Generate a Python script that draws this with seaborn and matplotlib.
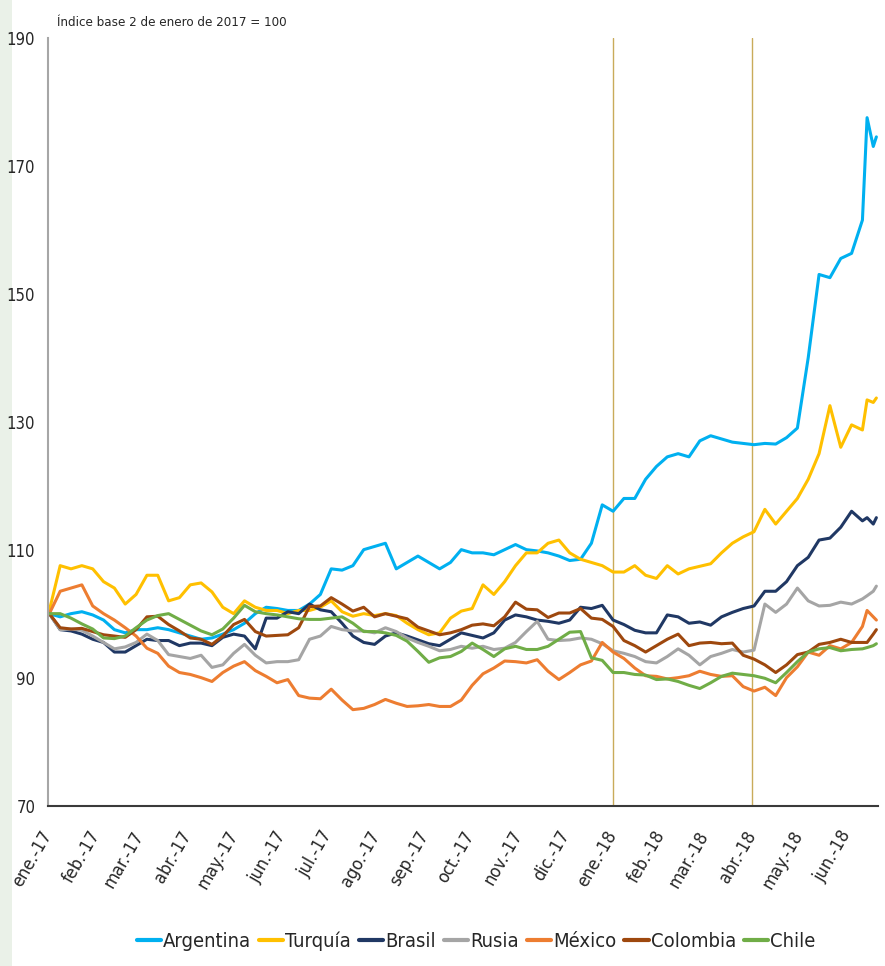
# Tipo de cambio de emergentes, índice base 2 de enero de 2017 = 100
# datos leídos a ojo del gráfico original (semanales, + 3 puntos finales de junio)

import pandas as pd
import matplotlib.pyplot as plt
import seaborn as sns
from matplotlib.patches import Rectangle

# ------------------ datos ------------------
fechas = list(pd.date_range("2017-01-02", "2018-06-11", freq="7D")) + \
    list(pd.to_datetime(["2018-06-14", "2018-06-18", "2018-06-20"]))

argentina = [100, 99.5, 100, 100.3, 99.8, 99, 97.5, 97, 97.5, 97.5,
             97.8, 97.5, 97, 96.5, 96, 96.2, 96.8, 97.5, 98.5, 100,
             101, 100.8, 100.5, 100.5, 101.5, 103, 107, 106.8, 107.5, 110,
             110.5, 111, 107, 108, 109, 108, 107, 108, 110, 109.5,
             109.5, 109.2, 110, 110.8, 110, 109.8, 109.5, 109, 108.3, 108.5,
             111, 117, 116, 118, 118, 121, 123, 124.5, 125, 124.5,
             127, 127.8, 127.3, 126.8, 126.6, 126.4, 126.6, 126.5, 127.5, 129,
             140, 153, 152.5, 155.5, 156.3, 161.5,
             177.5, 173, 174.5]

turquia = [100.5, 107.5, 107, 107.5, 107, 105, 104, 101.5, 103, 106,
           106, 102, 102.5, 104.5, 104.8, 103.4, 101, 100, 102, 101,
           100.5, 100.5, 100, 100.5, 100.5, 101, 102, 100.3, 99.6, 100,
           99.7, 100, 99.7, 98.5, 97.5, 96.7, 97, 99.3, 100.4, 100.8,
           104.5, 103, 105, 107.5, 109.5, 109.5, 111, 111.5, 109.5, 108.5,
           108, 107.5, 106.5, 106.5, 107.5, 106, 105.5, 107.5, 106.2, 107,
           107.4, 107.8, 109.5, 111, 112, 112.8, 116.3, 114, 116, 118,
           121, 125, 132.5, 126, 129.5, 128.7,
           133.4, 133, 133.7]

brasil = [100, 97.5, 97.3, 96.8, 96, 95.5, 94, 94, 95, 96,
          95.8, 95.8, 95, 95.4, 95.4, 95, 96.3, 96.8, 96.5, 94.5,
          99.3, 99.3, 100.3, 100, 101.5, 100.6, 100.3, 98.5, 96.5, 95.5,
          95.2, 96.5, 97, 96.5, 95.9, 95.3, 95, 96, 97, 96.6,
          96.2, 97, 99, 99.8, 99.5, 99, 98.8, 98.5, 99, 101,
          100.8, 101.3, 99, 98.3, 97.4, 97, 97, 99.8, 99.5, 98.5,
          98.7, 98.2, 99.5, 100.2, 100.8, 101.2, 103.5, 103.5, 105, 107.5,
          108.8, 111.5, 111.8, 113.5, 116, 114.5,
          115, 114, 115]

rusia = [100, 97.5, 97.6, 97.4, 96.5, 95.5, 94.5, 94.8, 95.5, 96.8,
         95.8, 93.6, 93.3, 93, 93.5, 91.6, 92, 93.8, 95.2, 93.5,
         92.3, 92.5, 92.5, 92.8, 96, 96.5, 98, 97.5, 97.3, 97.3,
         97, 97.8, 97.2, 96.2, 95.5, 94.9, 94.2, 94.4, 94.9, 94.6,
         94.9, 94.4, 94.6, 95.5, 97.2, 98.8, 96, 95.8, 95.9, 96.2,
         96, 95.3, 94.2, 93.8, 93.3, 92.5, 92.3, 93.3, 94.5, 93.5,
         92, 93.3, 93.8, 94.4, 94, 94.3, 101.5, 100.2, 101.5, 104,
         102, 101.2, 101.3, 101.8, 101.5, 102.3,
         102.8, 103.5, 104.3]

mexico = [100, 103.5, 104, 104.5, 101.2, 100, 99, 97.8, 96.5, 94.6,
          93.8, 91.8, 90.8, 90.5, 90, 89.4, 90.8, 91.8, 92.5, 91.1,
          90.2, 89.2, 89.7, 87.2, 86.8, 86.7, 88.2, 86.5, 85, 85.2,
          85.8, 86.6, 86, 85.5, 85.6, 85.8, 85.5, 85.5, 86.5, 88.8,
          90.6, 91.5, 92.6, 92.5, 92.3, 92.8, 91, 89.7, 90.8, 92,
          92.6, 95.5, 94, 93, 91.5, 90.3, 90.2, 89.8, 90, 90.3,
          91, 90.5, 90.2, 90.3, 88.6, 87.9, 88.5, 87.2, 90, 91.7,
          94, 93.5, 95, 94.5, 95.5, 98,
          100.5, 99.5, 99]

colombia = [100, 97.8, 97.6, 97.7, 97.2, 96.7, 96.5, 96.3, 97.5, 99.5,
            99.6, 98.3, 97.3, 96.2, 96, 95.2, 96.5, 98.3, 99.1, 97.2,
            96.5, 96.6, 96.7, 97.8, 101.1, 101.2, 102.5, 101.5, 100.4, 101,
            99.5, 100, 99.6, 99.2, 97.9, 97.3, 96.7, 97, 97.5, 98.2,
            98.4, 98.1, 99.5, 101.8, 100.7, 100.6, 99.4, 100.1, 100.1, 100.8,
            99.3, 99.1, 98, 95.8, 95, 94, 95, 96, 96.8, 95,
            95.4, 95.5, 95.3, 95.4, 93.5, 92.9, 92, 90.8, 92, 93.6,
            94, 95.2, 95.5, 96, 95.5, 95.5,
            95.5, 96.8, 97.5]

chile = [100, 100, 99.3, 98.4, 97.6, 96.2, 96.1, 96.5, 97.8, 99,
         99.7, 100, 99.1, 98.2, 97.3, 96.7, 97.6, 99.3, 101.3, 100.3,
         100, 99.8, 99.5, 99.2, 99.1, 99.1, 99.3, 99.5, 98.5, 97.2,
         97.2, 97, 96.6, 95.7, 94.1, 92.4, 93.1, 93.3, 94.1, 95.4,
         94.4, 93.3, 94.5, 94.9, 94.4, 94.4, 94.9, 96, 97.1, 97.2,
         93.1, 92.7, 90.8, 90.8, 90.5, 90.4, 89.7, 89.8, 89.4, 88.8,
         88.3, 89.2, 90.2, 90.7, 90.5, 90.3, 89.9, 89.2, 90.8, 92.5,
         94, 94.5, 94.7, 94.2, 94.4, 94.5,
         94.7, 95, 95.3]

paises = ["Argentina", "Turquía", "Brasil", "Rusia", "México", "Colombia", "Chile"]
colores = ["#00B0F0", "#FFC000", "#203864", "#A5A5A5", "#ED7D31", "#9E480E", "#70AD47"]
series = [argentina, turquia, brasil, rusia, mexico, colombia, chile]

meses = ["ene.", "feb.", "mar.", "abr.", "may.", "jun.",
         "jul.", "ago.", "sep.", "oct.", "nov.", "dic."]
fechas_corte = ["2018-01-01", "2018-04-01"]

df = pd.concat([pd.DataFrame({"fecha": fechas, "indice": v, "pais": p})
                for p, v in zip(paises, series)], ignore_index=True)

# ------------------ estilo ------------------
sns.set_style("white")
plt.rcParams["font.family"] = ["DejaVu Sans"]
plt.rcParams["font.stretch"] = "condensed"
plt.rcParams["text.color"] = "#262626"

fig, ax = plt.subplots(figsize=(8.85, 9.66), dpi=100)
fig.subplots_adjust(left=0.054, right=0.992, top=0.961, bottom=0.166)

# franja verde a la izquierda
fig.add_artist(Rectangle((0, 0), 12 / 885, 1, transform=fig.transFigure,
                         facecolor="#EAF1E8", edgecolor="none", zorder=-1))

for d in fechas_corte:
    ax.axvline(pd.Timestamp(d), color="#C9AB5A", lw=1.0, zorder=1)

sns.lineplot(data=df, x="fecha", y="indice", hue="pais", hue_order=paises,
             palette=colores, linewidth=2.2, ax=ax, zorder=2)

ax.set_xlim(pd.Timestamp("2017-01-01"), pd.Timestamp("2018-06-21"))
ax.set_ylim(70, 190)
ax.set_yticks(range(70, 191, 20))

ticks_mes = pd.date_range("2017-01-01", "2018-06-01", freq="MS")
ax.set_xticks(ticks_mes)
ax.set_xticklabels([f"{meses[t.month - 1]}-{t.strftime('%y')}" for t in ticks_mes],
                   rotation=60, ha="right", va="center", rotation_mode="anchor",
                   fontsize=13)
ax.set_xlabel("")
ax.set_ylabel("")

ax.tick_params(axis="x", direction="in", length=8, width=1, color="#A6A6A6",
               pad=19, labelcolor="#262626")
ax.tick_params(axis="y", direction="out", length=5, width=1, color="#A6A6A6",
               pad=4, labelsize=12, labelcolor="#262626")

sns.despine(ax=ax)
ax.spines["left"].set_color("#A6A6A6")
ax.spines["left"].set_linewidth(1.5)
ax.spines["bottom"].set_color("#3A3A3A")
ax.spines["bottom"].set_linewidth(1.5)

fig.text(57 / 885, 1 - 16 / 966, "Índice base 2 de enero de 2017 = 100",
         fontsize=9.5, ha="left", va="top")

sns.move_legend(ax, "center", bbox_to_anchor=(0.516, -0.177), ncol=7,
                frameon=False, title=None, fontsize=14.5, handlelength=1.2,
                handletextpad=0.1, columnspacing=0.4)
for h in ax.get_legend().get_lines():
    h.set_linewidth(3)

fig.savefig("out.png", dpi=100)
